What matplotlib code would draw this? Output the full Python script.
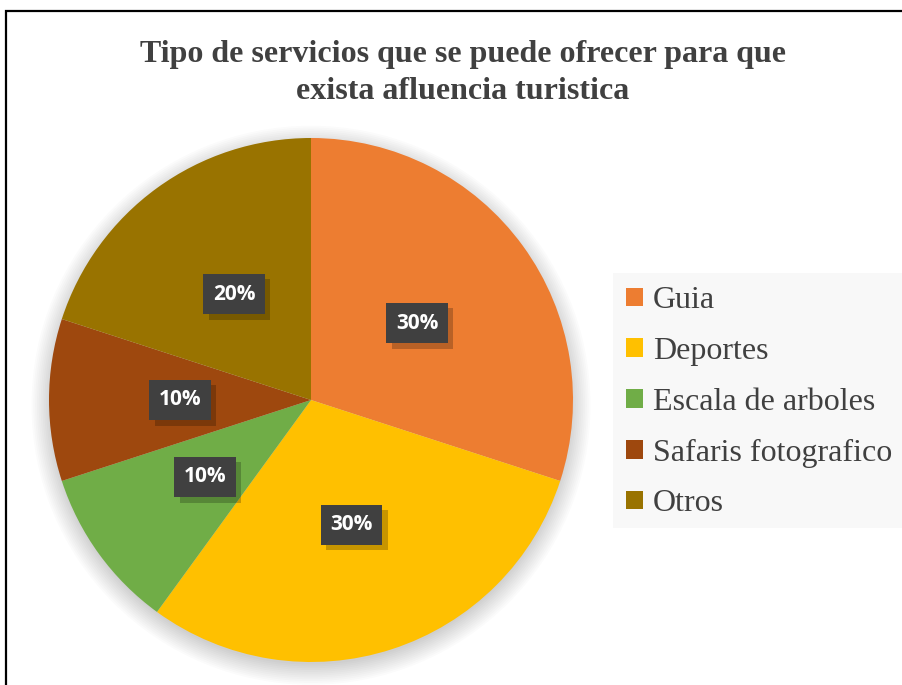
import matplotlib.pyplot as plt
import matplotlib.patheffects as pe
from matplotlib.patches import Rectangle, Circle

categorias = ['Guia', 'Deportes', 'Escala de arboles', 'Safaris fotografico', 'Otros']
porcentajes = [30, 30, 10, 10, 20]
colores = ['#ED7D31', '#FFC000', '#70AD47', '#9E480E', '#997300']
titulo = 'Tipo de servicios que se puede ofrecer para que\nexista afluencia turistica'

W, H = 902, 685
fig = plt.figure(figsize=(W / 100, H / 100), dpi=100)
fig.patch.set_facecolor('white')

# pie centre (311, 400) px, radius 262 px
cx, cy, r = 311, 400, 262
ax = fig.add_axes([(cx - r) / W, (H - cy - r) / H, 2 * r / W, 2 * r / H])

# soft shadow under the pie
for i in range(12):
    ax.add_patch(Circle((0, -0.02), 0.99 + 0.007 * i, color='black',
                        alpha=0.014, lw=0, clip_on=False, zorder=0))

wedges, textos, autot = ax.pie(
    porcentajes, colors=colores, startangle=90, counterclock=False,
    autopct='%1.0f%%', pctdistance=0.5, radius=1,
    wedgeprops=dict(linewidth=0),
    textprops=dict(color='white', fontsize=15, fontweight='bold',
                   family='Open Sans'))
for w in wedges:
    w.set_zorder(2)
for t in autot:
    t.set_zorder(5)
    t.set_bbox(dict(boxstyle='square,pad=0.46', facecolor='#404040',
                    edgecolor='none'))
    t.get_bbox_patch().set_path_effects([
        pe.withSimplePatchShadow(offset=(4, -4), shadow_rgbFace='#000000', alpha=0.22),
        pe.Normal()])
ax.set_xlim(-1, 1)
ax.set_ylim(-1, 1)
ax.set_aspect('equal')

fig.text(463 / W, 1 - 73 / H, titulo, ha='center', va='center',
         fontsize=23, fontweight='bold', family='Liberation Serif',
         color='#404040', linespacing=1.36)

# legend background (runs off the right edge)
fig.patches.append(Rectangle((613 / W, 1 - 528 / H), 0.5, 255 / H,
                             transform=fig.transFigure, facecolor='#f8f8f8',
                             edgecolor='none', zorder=0))
leg = fig.legend(wedges, categorias, loc='upper left',
                 bbox_to_anchor=(620 / W, 1 - 280 / H), borderaxespad=0,
                 prop={'family': 'Liberation Serif', 'size': 23},
                 labelcolor='#404040', frameon=False,
                 handlelength=0.52, handleheight=0.52, handletextpad=0.3,
                 labelspacing=0.68, borderpad=0.2)

# outer border (continues past the right and bottom edges)
fig.patches.append(Rectangle((5.5 / W, -0.1), 1.2, (H - 11) / H + 0.1,
                             transform=fig.transFigure, fill=False,
                             edgecolor='black', linewidth=1.6))

fig.savefig('out.png', dpi=100)
